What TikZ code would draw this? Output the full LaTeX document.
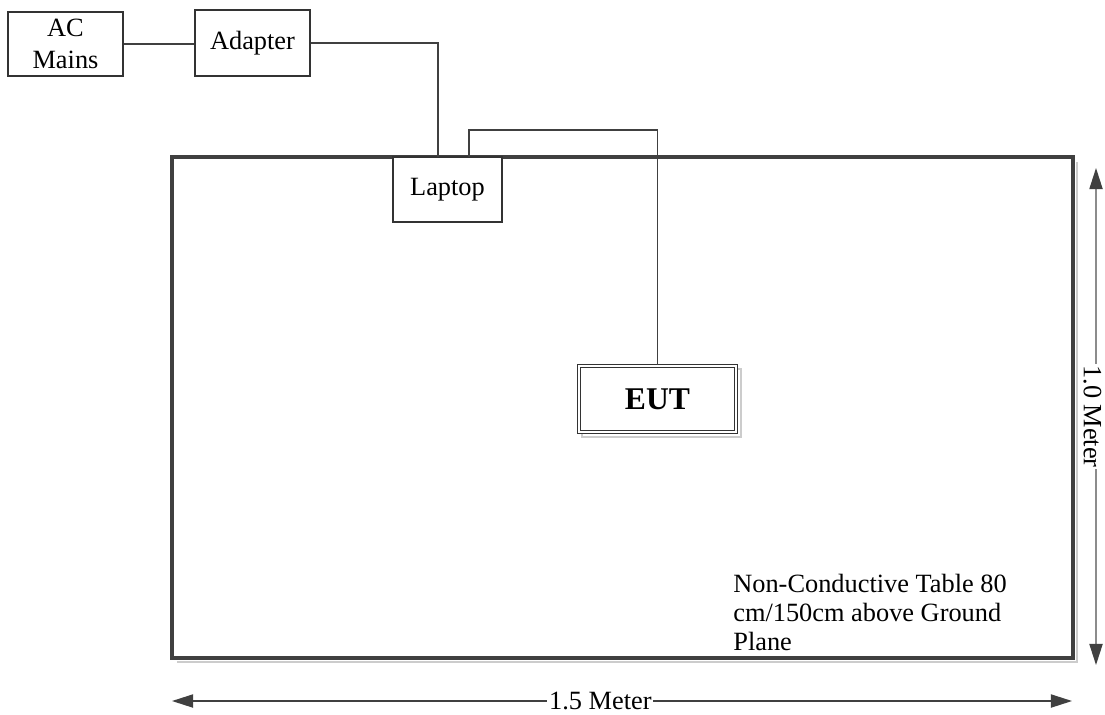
\documentclass[tikz,border=0pt]{standalone}
\usepackage{fontspec}
\setmainfont{Liberation Serif}
\usetikzlibrary{arrows.meta}

\tikzset{
    unit/.style={draw=black!80, line width=0.8pt, minimum height=64*0.02cm, inner sep=0pt, align=center, font=\fontsize{15}{18}\selectfont},
    wire/.style={draw=black!75, line width=0.6pt},
    dimline/.style={line width=0.8pt, {Triangle[length=12pt, width=7.5pt, color=black!75]}-{Triangle[length=12pt, width=7.5pt, color=black!75]}},
    dimlabel/.style={fill=white, inner sep=1pt, font=\fontsize{15}{18}\selectfont}
}

\begin{document}
\begin{tikzpicture}[x=0.02cm, y=-0.02cm]
    \useasboundingbox (0,0) rectangle (1105,714);

    % Table
    \draw[black!20, line width=1.5pt] (177,662) -- (1077,662) -- (1077,162);
    \draw[black!75, line width=2.2pt] (172,157) rectangle (1073,658);
    \node[anchor=north west, align=left, inner sep=0pt, font=\fontsize{15}{16.5}\selectfont] (table) at (733,574)
        {Non-Conductive Table 80\\cm/150cm above Ground\\Plane};

    % Boxes
    \node[unit, minimum width=115*0.02cm] (mains) at (65.5,44) {AC\\Mains};
    \node[unit, minimum width=115*0.02cm, minimum height=66*0.02cm] (adapter) at (252.5,43) {Adapter};
    \node[unit, minimum width=109*0.02cm, minimum height=65*0.02cm, fill=white] (laptop) at (447.5,189.5) {Laptop};

    % EUT
    \draw[black!20, line width=1.2pt] (582,369) rectangle (741,437);
    \node[draw=black!80, double=white, double distance=1.2pt, line width=0.6pt, fill=white,
        minimum width=157*0.02cm, minimum height=66*0.02cm, font=\fontsize{18}{20}\selectfont\bfseries] (eut) at (657.5,399) {EUT};

    % Cables
    \coordinate (lapin) at (438,157);
    \coordinate (lapout) at (469,157);
    \coordinate (bend) at (657.5,130);
    \draw[wire] (mains.east) -- (mains.east -| adapter.west);
    \draw[wire] (adapter.east) -| (lapin);
    \draw[wire] (lapout) |- (bend) -- (eut.north);

    % Dimensions
    \coordinate (vtop) at (1096,168);
    \coordinate (vbot) at (1096,665);
    \draw[dimline, draw=black!45] (vtop) -- (vbot) node[midway, dimlabel, rotate=-90, yshift=-2pt] {1.0 Meter};
    \coordinate (hleft) at (172,701);
    \coordinate (hright) at (1072,701);
    \draw[dimline, draw=black!75] (hleft) -- (hright) node[pos=0.476, dimlabel] {1.5 Meter};
\end{tikzpicture}
\end{document}
